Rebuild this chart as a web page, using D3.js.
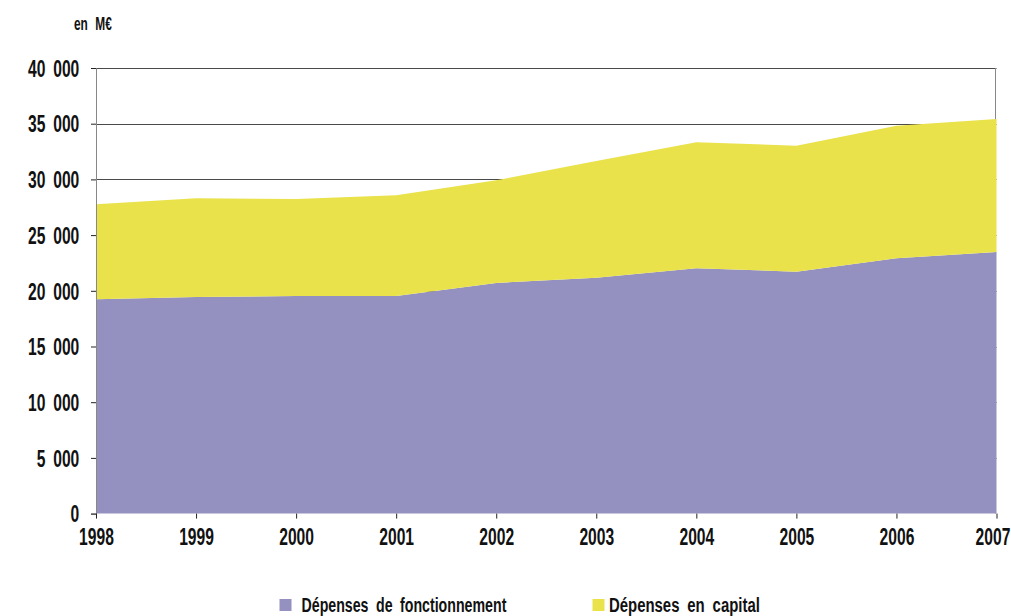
<!DOCTYPE html>
<html><head><meta charset="utf-8">
<script src="https://cdn.jsdelivr.net/npm/d3@7"></script>
<style>
body{margin:0;background:#fff;}
svg text{font-family:"Liberation Sans",Arial,sans-serif;font-weight:bold;fill:#111;}
</style></head>
<body><svg id="c" width="1011" height="616"></svg>
<script>
const years = [1998,1999,2000,2001,2002,2003,2004,2005,2006,2007];
const fonctionnement = [19240,19440,19530,19530,20700,21180,22020,21720,22920,23480];
const capital = [8530,8860,8710,9040,9220,10470,11310,11310,11900,11940];
const yTicks = [0,5000,10000,15000,20000,25000,30000,35000,40000];
const seriesNames = ["Dépenses de fonctionnement","Dépenses en capital"];
const colors = ["#9491c0","#e9e24b"];

const SX = 0.68; // horizontal squeeze to imitate the condensed face
const svg = d3.select("#c");
const m = {l:96, r:996.5, t:68, b:513.6};
const x = d3.scaleLinear().domain([1998,2007]).range([m.l,m.r]);
const y = d3.scaleLinear().domain([0,40000]).range([m.b,m.t]);

const data = years.map((yr,i)=>({year:yr, f:fonctionnement[i], c:capital[i]}));
const stacked = d3.stack().keys(["f","c"])(data);

// gridlines
svg.append("g").selectAll("line").data(yTicks.filter(d=>d>0)).join("line")
  .attr("x1",m.l).attr("x2",m.r).attr("y1",d=>Math.round(y(d))+0.5).attr("y2",d=>Math.round(y(d))+0.5)
  .attr("stroke","#4a4a4a").attr("stroke-width",1.2);
// right border
svg.append("line").attr("x1",995.5).attr("x2",995.5).attr("y1",y(40000)).attr("y2",m.b)
  .attr("stroke","#888");

const area = d3.area().x(d=>x(d.data.year)).y0(d=>y(d[0])).y1(d=>y(d[1]));
svg.append("g").selectAll("path").data(stacked).join("path")
  .attr("d",area).attr("fill",(d,i)=>colors[i]);

// y axis
const yAxis = d3.axisLeft(y).tickValues(yTicks).tickSize(5).tickPadding(12)
  .tickFormat(d=>d3.format(",")(d).replace(/,/g,"\u2002"));
const ya = svg.append("g").attr("transform",`translate(${m.l},0)`).call(yAxis);
ya.select(".domain").attr("stroke","#888");
ya.selectAll(".tick line").attr("stroke","#222");
ya.selectAll("text").attr("font-size",23).attr("dy","0.36em")
  .attr("x",0).attr("transform",`translate(-16.7,0) scale(${SX},1)`);

// x axis
const xAxis = d3.axisBottom(x).tickValues(years).tickSize(5).tickPadding(10.4).tickFormat(d3.format("d"));
const xa = svg.append("g").attr("transform",`translate(0,${m.b})`).call(xAxis);
xa.select(".domain").remove();
xa.selectAll(".tick line").attr("stroke","#222");
xa.selectAll("text").attr("font-size",23)
  .attr("transform",(d,i)=>`translate(${i===years.length-1?-4:0},0) scale(${SX},1)`);

// unit label
svg.append("text").attr("transform",`translate(74,30) scale(${SX},1)`).attr("font-size",17.5)
  .attr("word-spacing",6).text("en M€");

// legend
const lg = svg.append("g");
const lx = [279.5,592.5];
const lw = [205,151];
seriesNames.forEach((n,i)=>{
  lg.append("rect").attr("x",lx[i]).attr("y",599).attr("width",12).attr("height",12).attr("fill",colors[i]);
  const t = lg.append("text").attr("font-size",20).attr("word-spacing",5).text(n);
  const w = t.node().getComputedTextLength();
  t.attr("transform",`translate(${lx[i]+(i?16.5:22)},611.5) scale(${lw[i]/w},1)`);
});
</script></body></html>
